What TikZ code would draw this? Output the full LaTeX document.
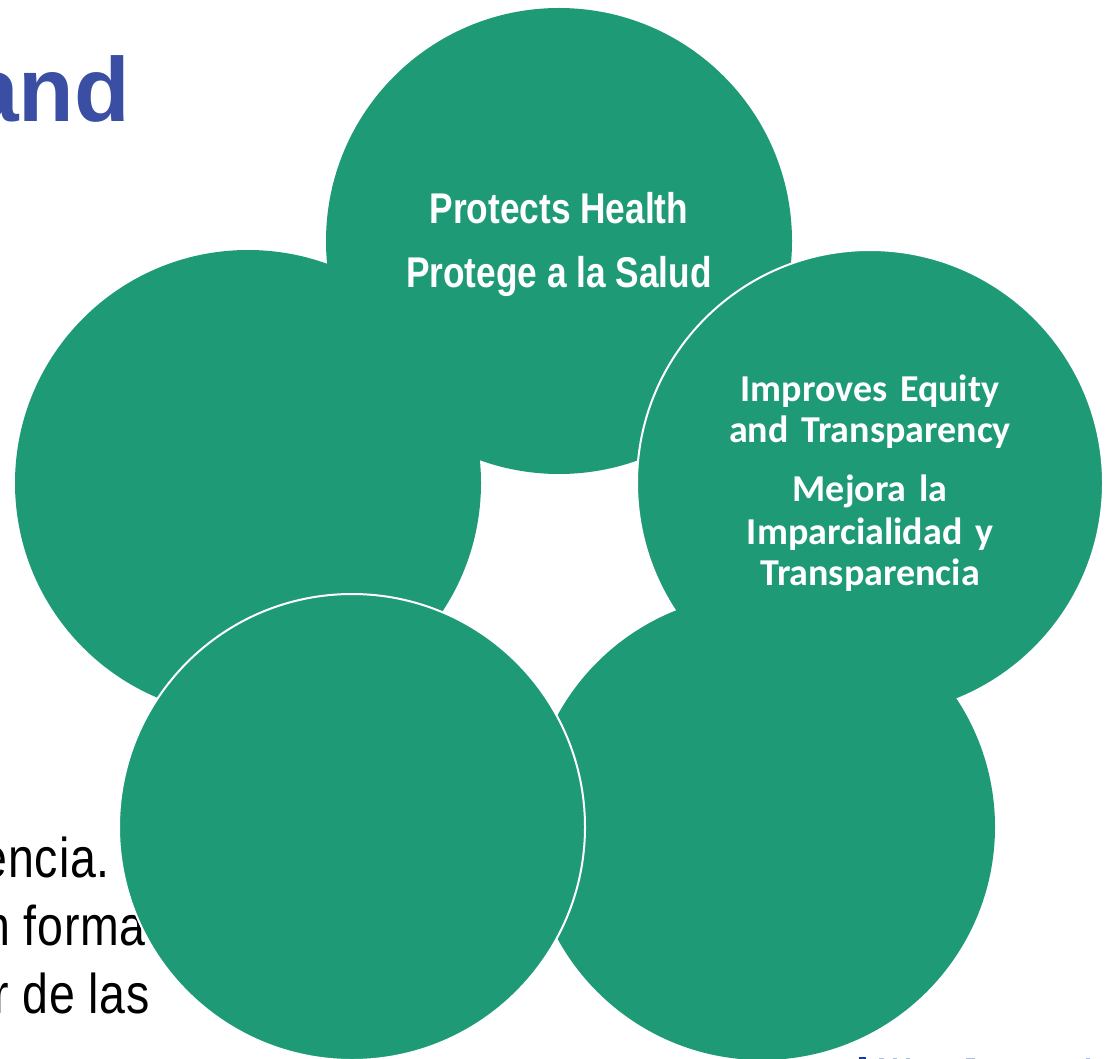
\documentclass[tikz,border=0pt]{standalone}
\usepackage{fontspec}
\setmainfont{Liberation Sans}
\newfontfamily\narrowbold[FakeStretch=0.82]{Liberation Sans Bold}
\newfontfamily\narrowreg[FakeStretch=0.83,LetterSpace=1.5]{Liberation Sans}
\newfontfamily\carlitob{Carlito Bold}
\definecolor{petal}{HTML}{1E9A77}
\definecolor{titleblue}{HTML}{3A4FA3}
\definecolor{footblue}{HTML}{1F3A8C}
\tikzset{
  x=1pt,y=-1pt,
  petalnode/.style={circle,fill=petal,minimum size=#1,inner sep=0pt,outer sep=0pt},
  edged/.style={draw=white,line width=2pt},
  narrowlabel/.style={text=white,font=\narrowbold\fontsize{43}{64}\selectfont,align=center},
  widelabel/.style={text=white,font=\carlitob\fontsize{38}{41}\selectfont,align=center},
  bgline/.style={anchor=base east,text=black,font=\narrowreg\fontsize{56}{56}\selectfont,inner sep=0pt},
}
\begin{document}
\begin{tikzpicture}
\useasboundingbox (0,0) rectangle (1108,1059);
\node[anchor=base east,text=titleblue,font=\bfseries\fontsize{91}{91}\selectfont,inner sep=0pt] (title) at (130,122) {and};
\node[bgline] (lineone) at (110,877) {encia.};
\node[bgline] (linetwo) at (146,945) {n forma};
\node[bgline] (linethree) at (150,1013) {r de las};
\fill[footblue] (859,1056.5) rectangle (866,1059);
\fill[footblue!35] (879,1057.5) rectangle (884,1059);
\fill[footblue!35] (893,1057.5) rectangle (897,1059);
\fill[footblue!35] (906,1057.5) rectangle (910,1059);
\fill[footblue!35] (966,1057.5) rectangle (975,1059);
\fill[footblue!35] (1086,1057.5) rectangle (1090,1059);
\node[petalnode=466pt] (left) at (248,483) {};
\node[petalnode=466pt] (top) at (559,241) {};
\node[petalnode=466pt,edged] (right) at (870,483) {};
\node[petalnode=466pt] (lowerright) at (762,827) {};
\node[petalnode=466pt,edged] (lowerleft) at (352,827) {};
\node[narrowlabel] (toplabel) at (559,244) {Protects Health\\Protege a la Salud};
\node[widelabel,text width=340pt] (rightlabel) at (870,483) {Improves Equity\\and Transparency\\[18pt]Mejora la\\[2pt]Imparcialidad y\\Transparencia};
\end{tikzpicture}
\end{document}
